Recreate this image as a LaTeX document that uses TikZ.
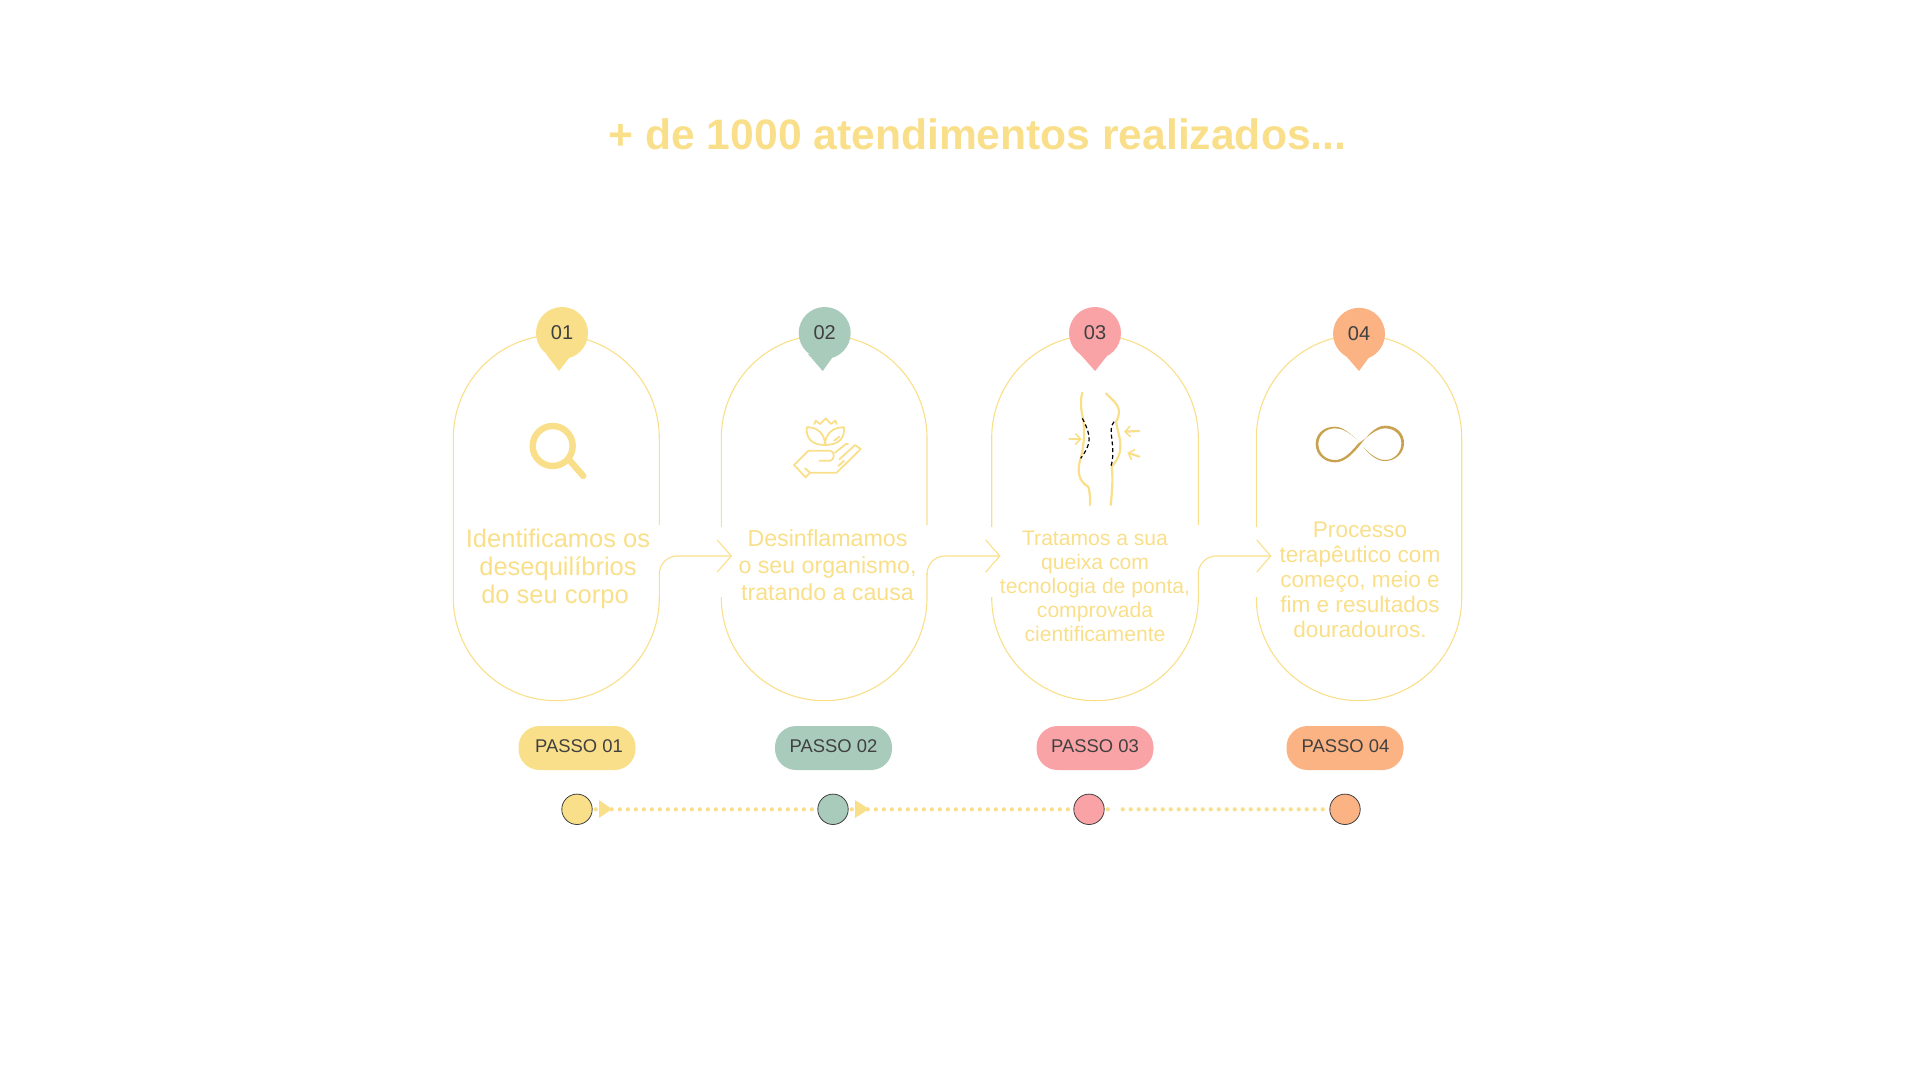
\documentclass[tikz,border=0pt]{standalone}
\usepackage{fontspec}
\setmainfont{Liberation Sans}
\usetikzlibrary{arrows.meta,calc,positioning}

\begin{document}
\begin{tikzpicture}[x=0.5pt,y=-0.5pt,line width=0.5pt]
  \definecolor{stepyellow}{HTML}{F9DF8A}
  \definecolor{stepgreen}{HTML}{A9CBBB}
  \definecolor{steppink}{HTML}{FAA3A6}
  \definecolor{steporange}{HTML}{FBB384}
  \definecolor{stepdark}{HTML}{404040}
  \definecolor{stepgold}{HTML}{C9A24F}
  \tikzset{
    capline/.style={stepyellow,line width=0.55pt,rounded corners=51.5pt},
    hookline/.style={stepyellow,line width=0.55pt,rounded corners=9pt,-{Straight Barb[length=7pt,width=16pt,line width=0.55pt]}},
    pinnum/.style={circle,minimum size=26pt,inner sep=0pt,text=stepdark,font=\fontsize{10}{10}\selectfont},
    passopill/.style={minimum width=58.5pt,minimum height=22pt,inner sep=0pt,rounded corners=10.5pt},
    passolabel/.style={inner sep=0pt,text=stepdark,font=\fontsize{9.2}{9.2}\selectfont},
    stepdot/.style={circle,minimum size=15.2pt,inner sep=0pt,draw=stepdark,line width=0.4pt},
    dotline/.style={stepyellow,line width=2.1pt,line cap=round,dash pattern=on 0pt off 4pt},
    steptext/.style={align=center,text=stepyellow,inner sep=0pt},
    iconline/.style={stepyellow,line width=0.9pt,line cap=round,line join=round},
    bodyline/.style={stepyellow,line width=1.1pt,line cap=round},
    cutline/.style={black,line width=0.6pt,dashed,dash pattern=on 2pt off 1.4pt},
    headtip/.style={-{Straight Barb[length=2.6pt,width=5.5pt,line width=0.8pt]}}
  }
  \useasboundingbox (0,0) rectangle (1920,1080);
  % title
  \node[text=stepyellow,inner sep=0pt,font=\fontsize{21.3}{21.3}\selectfont\bfseries] (title) at (977.5,134) {+ de 1000 atendimentos realizados...};
  % capsules
  \draw[capline] (659.3,525) -- (659.3,335) -- (453.3,335) -- (453.3,700.7) -- (659.3,700.7) -- (659.3,573);
  \draw[capline] (721.3,527) -- (721.3,335) -- (927,335) -- (927,525);
  \draw[capline] (721.3,597) -- (721.3,700.7) -- (927,700.7) -- (927,573);
  \draw[capline] (991.7,527) -- (991.7,335) -- (1198.3,335) -- (1198.3,525);
  \draw[capline] (991.7,597) -- (991.7,700.7) -- (1198.3,700.7) -- (1198.3,573);
  \draw[capline] (1256.3,527) -- (1256.3,335) -- (1461.7,335) -- (1461.7,700.7) -- (1256.3,700.7) -- (1256.3,597);
  % hooks
  \coordinate (hookA) at (659.3,575);
  \coordinate (tipA) at (732,556);
  \coordinate (hookB) at (927,575);
  \coordinate (tipB) at (1000.5,556);
  \coordinate (hookC) at (1198.3,575);
  \coordinate (tipC) at (1271.5,556);
  \draw[hookline] (hookA) |- (tipA);
  \draw[hookline] (hookB) |- (tipB);
  \draw[hookline] (hookC) |- (tipC);
  % pins
  \fill[stepyellow] (546,354) -- (559,371) -- (569,358) -- cycle;
  \fill[stepgreen] (808,354) -- (822.7,371) -- (832,358) -- cycle;
  \fill[steppink] (1080,354) -- (1095,371) -- (1107,356) -- cycle;
  \fill[steporange] (1346,356) -- (1359,371) -- (1370,356) -- cycle;
  \node[pinnum,fill=stepyellow] (pinA) at (562,333) {01};
  \node[pinnum,fill=stepgreen] (pinB) at (824.7,333) {02};
  \node[pinnum,fill=steppink] (pinC) at (1095,333) {03};
  \node[pinnum,fill=steporange] (pinD) at (1359,333.8) {04};
  % texts
  \node[steptext,font=\fontsize{12.75}{14}\selectfont] (textA) at (558,569) {Identificamos os\\desequilíbrios\\do seu corpo\hbox{\kern 3pt}};
  \node[steptext,font=\fontsize{11.6}{13.5}\selectfont] (textB) at (827.5,565) {Desinflamamos\\o seu organismo,\\tratando a causa};
  \node[steptext,font=\fontsize{10.55}{12}\selectfont] (textC) at (1095,586) {Tratamos a sua\\queixa com\\tecnologia de ponta,\\comprovada\\cientificamente};
  \node[steptext,font=\fontsize{11.3}{12.5}\selectfont] (textD) at (1360,580) {Processo\\terapêutico com\\começo, meio e\\fim e resultados\\douradouros.};
  % passo pills
  \node[passopill,fill=stepyellow] (passoA) at (577,748) {};
  \node[passopill,fill=stepgreen] (passoB) at (833.5,748) {};
  \node[passopill,fill=steppink] (passoC) at (1095,748) {};
  \node[passopill,fill=steporange] (passoD) at (1345,748) {};
  \node[passolabel] (labelA) at (579,746.5) {PASSO 01};
  \node[passolabel] (labelB) at (833.5,746.5) {PASSO 02};
  \node[passolabel] (labelC) at (1095,746.5) {PASSO 03};
  \node[passolabel] (labelD) at (1345.5,746.5) {PASSO 04};
  % timeline
  \node[stepdot,fill=stepyellow] (dotA) at (577,809.3) {};
  \node[stepdot,fill=stepgreen] (dotB) at (833,809.3) {};
  \node[stepdot,fill=steppink] (dotC) at (1089,809.3) {};
  \node[stepdot,fill=steporange] (dotD) at (1345,809.3) {};
  \coordinate (stubC) at (1108,809.3);
  \coordinate (startD) at (1122.7,809.3);
  \draw[dotline,dash phase=2.4pt] (dotA) -- (dotB);
  \draw[dotline,dash phase=2.4pt] (dotB) -- (dotC);
  \draw[dotline,dash phase=2.4pt] (dotC) -- (stubC);
  \draw[dotline] (startD) -- (dotD);
  \fill[stepyellow] (599,800) -- (612,809) -- (599,818) -- cycle;
  \fill[stepyellow] (855,800) -- (869,809) -- (855,818) -- cycle;
  % magnifier
  \draw[stepyellow,line width=3.2pt] (552.7,446) circle (20);
  \draw[stepyellow,line width=3.2pt,line cap=round] (569.3,460) -- (583.3,476);
  % hand with lotus
  \begin{scope}[shift={(770,400)},x=0.1667pt,y=-0.1667pt]
    \draw[iconline] (165,135) .. controls (125,135) and (108,115) .. (110,82) .. controls (140,80) and (165,100) .. (165,135);
    \draw[iconline] (165,135) .. controls (205,135) and (225,115) .. (222,82) .. controls (192,80) and (165,100) .. (165,135);
    \draw[iconline] (133,72) -- (137,62) -- (150,72) -- (167,55) -- (183,72) -- (196,62) -- (200,72);
    \draw[iconline] (192,122) -- (208,110);
    \draw[iconline] (72,195) -- (115,152) -- (180,152) .. controls (195,152) and (195,182) .. (180,182) -- (148,182);
    \draw[iconline] (72,195) -- (107,232) -- (120,218) -- (200,218) -- (272,147) -- (255,135) -- (208,178);
    \draw[iconline] (105,205) -- (120,218);
    \draw[iconline] (195,158) -- (228,132) -- (234,132);
    \draw[iconline] (205,198) -- (222,182);
  \end{scope}
  % body
  \begin{scope}[shift={(1050,380)},x=0.1667pt,y=-0.1667pt]
    \draw[bodyline] (97,38) .. controls (88,70) and (95,95) .. (100,120) .. controls (105,170) and (100,205) .. (92,235) .. controls (80,270) and (85,305) .. (115,320) .. controls (122,345) and (120,375) .. (120,375);
    \draw[bodyline] (168,40) .. controls (185,60) and (225,80) .. (198,125) .. controls (205,170) and (230,210) .. (185,260) .. controls (190,300) and (185,345) .. (182,375);
    \draw[cutline] (97,115) .. controls (125,170) and (125,190) .. (92,235);
    \draw[cutline] (192,125) .. controls (170,150) and (200,200) .. (183,258);
    \draw[bodyline,headtip] (58,177) -- (95,177);
    \draw[bodyline,headtip] (268,153) -- (222,155);
    \draw[bodyline,headtip] (268,230) -- (232,218);
  \end{scope}
  % infinity
  \begin{scope}[shift={(1300,410)},x=0.1667pt,y=-0.1667pt]
    \fill[stepgold] (170,88) .. controls (140,60) and (120,50) .. (105,50) .. controls (70,50) and (47,72) .. (47,102) .. controls (47,135) and (75,157) .. (105,157) .. controls (135,157) and (160,130) .. (180,105) .. controls (200,80) and (225,47) .. (255,47) .. controls (290,47) and (312,70) .. (312,100) .. controls (312,130) and (285,153) .. (255,153) .. controls (230,153) and (210,135) .. (190,112) .. controls (210,132) and (232,150) .. (255,150) .. controls (285,150) and (304,125) .. (304,100) .. controls (304,75) and (285,55) .. (255,55) .. controls (225,55) and (200,85) .. (175,100) .. controls (150,130) and (130,150) .. (105,150) .. controls (75,150) and (55,128) .. (55,102) .. controls (55,78) and (75,55) .. (105,55) .. controls (125,55) and (145,65) .. (170,88) -- cycle;
  \end{scope}
\end{tikzpicture}
\end{document}
